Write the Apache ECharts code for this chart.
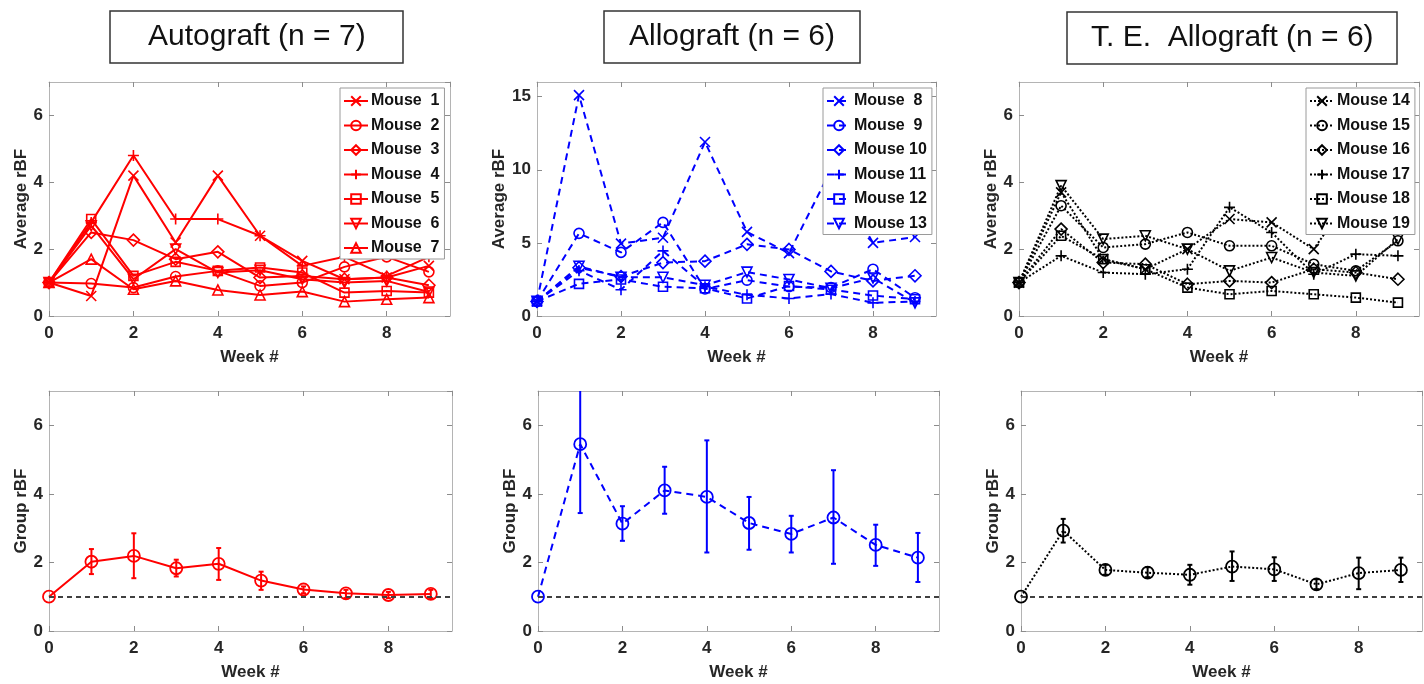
<!DOCTYPE html>
<html>
<head>
<meta charset="utf-8">
<script src="https://cdn.jsdelivr.net/npm/echarts@6/dist/echarts.min.js"></script>
<style>
  html, body { margin: 0; padding: 0; background: #fff; }
  #chart { width: 1424px; height: 684px; }
</style>
</head>
<body>
<div id="chart"></div>
<script>
// weeks on the x axis
var weeks = [0, 1, 2, 3, 4, 5, 6, 7, 8, 9]

// top row: one line per mouse
var autoNames = ['Mouse  1', 'Mouse  2', 'Mouse  3', 'Mouse  4', 'Mouse  5', 'Mouse  6', 'Mouse  7']
var autoMice = [
  [1, 0.6, 4.2, 2.2, 4.2, 2.4, 1.65, 1.1, 1.15, 1.5],
  [1, 0.97, 0.85, 1.18, 1.35, 0.9, 1.0, 1.47, 1.77, 1.32],
  [1, 2.5, 2.27, 1.7, 1.92, 1.15, 1.2, 1.1, 1.15, 0.92],
  [1, 2.8, 4.8, 2.9, 2.9, 2.4, 1.5, 1.77, 1.2, 1.77],
  [1, 2.9, 1.2, 1.62, 1.35, 1.45, 1.3, 0.7, 0.75, 0.7],
  [1, 2.7, 1.1, 2.0, 1.3, 1.37, 1.1, 1.0, 1.05, 0.72],
  [1, 1.7, 0.8, 1.05, 0.78, 0.63, 0.73, 0.43, 0.5, 0.55]
]
var alloNames = ['Mouse  8', 'Mouse  9', 'Mouse 10', 'Mouse 11', 'Mouse 12', 'Mouse 13']
var alloMice = [
  [1, 15.1, 4.95, 5.35, 11.9, 5.75, 4.3, 10.0, 5.0, 5.4],
  [1, 5.65, 4.35, 6.4, 1.85, 2.45, 2.0, 1.95, 3.2, 1.25],
  [1, 3.3, 2.7, 3.65, 3.75, 4.9, 4.55, 3.05, 2.4, 2.75],
  [1, 3.1, 1.8, 4.45, 2.0, 1.45, 1.2, 1.5, 0.9, 1.0],
  [1, 2.2, 2.5, 2.0, 1.9, 1.2, 2.05, 1.8, 1.4, 1.15],
  [1, 3.4, 2.65, 2.65, 2.1, 3.0, 2.5, 1.9, 2.6, 0.9]
]
var teNames = ['Mouse 14', 'Mouse 15', 'Mouse 16', 'Mouse 17', 'Mouse 18', 'Mouse 19']
var teMice = [
  [1, 3.7, 1.7, 1.4, 2.0, 2.9, 2.8, 2.0, 3.8, 2.75],
  [1, 3.3, 2.05, 2.15, 2.5, 2.1, 2.1, 1.55, 1.35, 2.25],
  [1, 2.6, 1.6, 1.55, 0.95, 1.05, 1.0, 1.4, 1.3, 1.1],
  [1, 1.8, 1.3, 1.25, 1.4, 3.25, 2.5, 1.25, 1.85, 1.8],
  [1, 2.4, 1.7, 1.4, 0.85, 0.65, 0.75, 0.65, 0.55, 0.4],
  [1, 3.9, 2.3, 2.4, 2.0, 1.35, 1.75, 1.3, 1.2, 2.3]
]

// bottom row: group mean with error bar ends (week 0 has no bar)
var autoMean = [1, 2.02, 2.19, 1.83, 1.96, 1.47, 1.21, 1.1, 1.05, 1.08]
var autoLow = [null, 1.66, 1.54, 1.59, 1.49, 1.2, 1.1, 0.96, 0.96, 0.96]
var autoHigh = [null, 2.39, 2.85, 2.08, 2.42, 1.73, 1.3, 1.2, 1.14, 1.2]
var alloMean = [1, 5.45, 3.13, 4.1, 3.91, 3.15, 2.83, 3.31, 2.51, 2.14]
var alloLow = [null, 3.44, 2.63, 3.42, 2.29, 2.37, 2.29, 1.96, 1.9, 1.43]
var alloHigh = [null, 7.5, 3.64, 4.79, 5.56, 3.91, 3.36, 4.69, 3.1, 2.86]
var teMean = [1, 2.93, 1.78, 1.7, 1.64, 1.88, 1.8, 1.36, 1.69, 1.78]
var teLow = [null, 2.58, 1.64, 1.57, 1.35, 1.46, 1.46, 1.22, 1.22, 1.43]
var teHigh = [null, 3.27, 1.93, 1.86, 1.93, 2.32, 2.15, 1.51, 2.14, 2.14]

var titles = ['Autograft (n = 7)', 'Allograft (n = 6)', 'T. E.  Allograft (n = 6)']

var FONT = 'Liberation Sans, Arial, Helvetica, sans-serif'
var SYMBOLS = [
  'path://M0,0L10,10M10,0L0,10', // x
  'circle',
  'diamond',
  'path://M5,0L5,10M0,5L10,5', // +
  'rect',
  'path://M0,0L10,0L5,8.66Z', // down triangle
  'path://M5,0L10,8.66L0,8.66Z' // up triangle
]
var SYM_SIZE = [10, 10, 12, 11, 9, 10, 10]

var myChart = echarts.init(document.getElementById('chart'))

var grids = [
  { left: 49, top: 82, width: 401, height: 234 },
  { left: 537, top: 82, width: 399, height: 234 },
  { left: 1019, top: 82, width: 400, height: 234 },
  { left: 49, top: 391, width: 403, height: 240 },
  { left: 538, top: 391, width: 401, height: 240 },
  { left: 1021, top: 391, width: 401, height: 240 }
]
var yMax = [7, 16, 7, 7, 7, 7]
var yInt = [2, 5, 2, 2, 2, 2]
var yNames = ['Average rBF', 'Average rBF', 'Average rBF', 'Group rBF', 'Group rBF', 'Group rBF']

var frame = { show: true, onZero: false, lineStyle: { color: '#b4b4b4', width: 1 } }
var ticks = { show: true, inside: true, length: 5, lineStyle: { color: '#8c8c8c', width: 1 } }
var xAxes = []
var yAxes = []
grids.forEach(function (g, i) {
  // bottom x axis with labels
  xAxes.push({
    gridIndex: i, type: 'value', position: 'bottom', min: 0, max: 9.5, interval: 2,
    name: 'Week #', nameLocation: 'middle', nameGap: 33,
    nameTextStyle: { fontSize: 17, fontWeight: 'bold', color: '#262626', fontFamily: FONT },
    axisLine: frame,
    axisTick: ticks,
    axisLabel: { margin: 9, fontSize: 17, fontWeight: 'bold', color: '#262626', fontFamily: FONT, showMaxLabel: false },
    splitLine: { show: false }
  })
  // top x axis, ticks only
  xAxes.push({
    gridIndex: i, type: 'value', position: 'top', min: 0, max: 9.5, interval: 2,
    axisLine: frame,
    axisTick: ticks,
    axisLabel: { show: false },
    splitLine: { show: false }
  })
  yAxes.push({
    gridIndex: i, type: 'value', position: 'left', min: 0, max: yMax[i], interval: yInt[i],
    name: yNames[i], nameLocation: 'middle', nameGap: 18,
    nameTextStyle: { fontSize: 17, fontWeight: 'bold', color: '#262626', fontFamily: FONT },
    axisLine: frame,
    axisTick: ticks,
    axisLabel: { margin: 6, fontSize: 17, fontWeight: 'bold', color: '#262626', fontFamily: FONT, showMaxLabel: false },
    splitLine: { show: false }
  })
  yAxes.push({
    gridIndex: i, type: 'value', position: 'right', min: 0, max: yMax[i], interval: yInt[i],
    axisLine: frame,
    axisTick: ticks,
    axisLabel: { show: false },
    splitLine: { show: false }
  })
})

var groupStyles = [
  { color: '#ff0000', type: 'solid' },
  { color: '#0000ff', type: [7, 5] },
  { color: '#000000', type: [2, 2] }
]

var series = []
function addMice (panel, names, mice) {
  var st = groupStyles[panel]
  names.forEach(function (name, k) {
    series.push({
      name: name,
      type: 'line',
      xAxisIndex: panel * 2,
      yAxisIndex: panel * 2,
      data: weeks.map(function (w, j) { return [w, mice[k][j]] }),
      symbol: SYMBOLS[k],
      symbolSize: SYM_SIZE[k],
      showAllSymbol: true,
      lineStyle: { color: st.color, type: st.type, width: 2 },
      itemStyle: { color: 'none', borderColor: st.color, borderWidth: 1.6 },
      emphasis: { disabled: true },
      animation: false
    })
  })
}
addMice(0, autoNames, autoMice)
addMice(1, alloNames, alloMice)
addMice(2, teNames, teMice)

function addGroup (panel, mean, low, high) {
  var st = groupStyles[panel]
  var axis = (panel + 3) * 2
  series.push({
    type: 'custom',
    xAxisIndex: axis,
    yAxisIndex: axis,
    clip: true,
    silent: true,
    animation: false,
    data: weeks.filter(function (w, j) { return low[j] !== null })
      .map(function (w) { return [w, low[w], high[w]] }),
    encode: { x: 0, y: [1, 2] },
    renderItem: function (params, api) {
      var lo = api.coord([api.value(0), api.value(1)])
      var hi = api.coord([api.value(0), api.value(2)])
      var cap = 2.5
      var style = { stroke: st.color, lineWidth: 2, fill: 'none' }
      return {
        type: 'group',
        children: [
          { type: 'line', shape: { x1: lo[0], y1: lo[1], x2: hi[0], y2: hi[1] }, style: style },
          { type: 'line', shape: { x1: lo[0] - cap, y1: lo[1], x2: lo[0] + cap, y2: lo[1] }, style: style },
          { type: 'line', shape: { x1: hi[0] - cap, y1: hi[1], x2: hi[0] + cap, y2: hi[1] }, style: style }
        ]
      }
    }
  })
  series.push({
    type: 'line',
    xAxisIndex: axis,
    yAxisIndex: axis,
    data: weeks.map(function (w, j) { return [w, mean[j]] }),
    symbol: 'circle',
    symbolSize: 12,
    lineStyle: { color: st.color, type: st.type, width: 2 },
    itemStyle: { color: 'none', borderColor: st.color, borderWidth: 1.8 },
    emphasis: { disabled: true },
    animation: false,
    z: 3,
    markLine: {
      silent: true,
      symbol: 'none',
      label: { show: false },
      lineStyle: { color: '#404040', type: [5, 4], width: 2 },
      data: [{ yAxis: 1 }]
    }
  })
}
addGroup(0, autoMean, autoLow, autoHigh)
addGroup(1, alloMean, alloLow, alloHigh)
addGroup(2, teMean, teLow, teHigh)

var titleBoxes = [
  { left: 110, top: 11, padding: [11, 38] },
  { left: 604, top: 11, padding: [11, 25] },
  { left: 1067, top: 12, padding: [11, 24] }
]
var legendBoxes = [
  { left: 340, top: 88, data: autoNames },
  { left: 823, top: 88, data: alloNames },
  { left: 1306, top: 88, data: teNames }
]

const option = {
  backgroundColor: '#fff',
  title: titles.map(function (t, i) {
    return {
      text: t,
      left: titleBoxes[i].left,
      top: titleBoxes[i].top,
      padding: titleBoxes[i].padding,
      borderColor: '#333',
      borderWidth: 1.5,
      textStyle: { fontSize: 30, fontWeight: 'normal', color: '#111', fontFamily: FONT }
    }
  }),
  legend: legendBoxes.map(function (l) {
    return {
      orient: 'vertical',
      left: l.left,
      top: l.top,
      data: l.data,
      padding: [5, 5, 3, 3],
      itemWidth: 24,
      itemHeight: 12,
      itemGap: 8.5,
      backgroundColor: '#fff',
      borderColor: '#9a9a9a',
      borderWidth: 1,
      selectedMode: false,
      textStyle: { fontSize: 16, fontWeight: 'bold', color: '#111', fontFamily: FONT, padding: [0, 0, 0, -2] }
    }
  }),
  grid: grids,
  xAxis: xAxes,
  yAxis: yAxes,
  series: series
}
myChart.setOption(option)
</script>
</body>
</html>
